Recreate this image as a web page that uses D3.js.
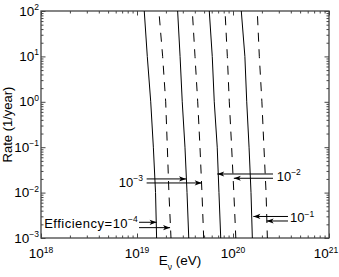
<!DOCTYPE html>
<html>
<head>
<meta charset="utf-8">
<script src="https://cdn.jsdelivr.net/npm/d3@7"></script>
<style>
body { margin: 0; background: #fff; }
text { font-family: "Liberation Sans", Arial, Helvetica, sans-serif; fill: #000; }
</style>
</head>
<body>
<svg id="chart" width="339" height="277"></svg>
<script>
// rate levels (1/year) where the curves were read, bottom to top
var rates = [1e-3, 1e-2, 1e-1, 1e0, 1e1, 1e2];

// neutrino energy (eV) of each solid curve at those rates
var solidE = [
    [1.60e19, 1.56e19, 1.48e19, 1.39e19, 1.28e19, 1.19e19],
    [3.46e19, 3.32e19, 3.16e19, 2.96e19, 2.81e19, 2.65e19],
    [7.45e19, 7.14e19, 6.85e19, 6.38e19, 6.08e19, 5.66e19],
    [1.59e20, 1.54e20, 1.47e20, 1.39e20, 1.33e20, 1.22e20]
];
// same for the dashed curves
var dashedE = [
    [2.26e19, 2.15e19, 2.07e19, 1.99e19, 1.85e19, 1.69e19],
    [4.95e19, 4.75e19, 4.53e19, 4.29e19, 4.02e19, 3.77e19],
    [1.07e20, 1.02e20, 9.68e19, 9.15e19, 8.73e19, 8.26e19],
    [2.28e20, 2.21e20, 2.10e20, 2.00e20, 1.88e20, 1.79e20]
];

var xTickExp = [18, 19, 20, 21];
var yTickExp = [-3, -2, -1, 0, 1, 2];

// annotations, in data units
var labels = [
    {text: "10", sup: "\u22123", E: 1.155e19, rate: 0.0170, anchor: "end"},
    {text: "10", sup: "\u22122", E: 2.85e20, rate: 0.0232, anchor: "start"},
    {text: "10", sup: "\u22121", E: 3.93e20, rate: 0.0028, anchor: "start"},
    {text: "Efficiency=10", sup: "\u22124", E: 1.02e19, rate: 0.00211, anchor: "end"}
];
var arrows = [
    {from: [1.26e19, 0.0200], to: [3.24e19, 0.0200]},
    {from: [1.26e19, 0.0163], to: [4.72e19, 0.0163]},
    {from: [2.61e20, 0.0257], to: [6.85e19, 0.0257]},
    {from: [2.61e20, 0.0207], to: [1.02e20, 0.0207]},
    {from: [3.74e20, 0.00298], to: [1.63e20, 0.00298]},
    {from: [3.74e20, 0.00237], to: [2.24e20, 0.00237]},
    {from: [1.05e19, 0.00222], to: [1.60e19, 0.00222]},
    {from: [1.05e19, 0.00169], to: [2.21e19, 0.00169]}
];

var svg = d3.select("#chart");
var margin = {top: 11, right: 10, bottom: 39, left: 41};
var width = +svg.attr("width") - margin.left - margin.right;
var height = +svg.attr("height") - margin.top - margin.bottom;
var g = svg.append("g")
           .attr("transform", "translate(" + margin.left + "," + margin.top + ")");

var x = d3.scaleLog().domain([1e18, 1e21]).range([0, width]);
var y = d3.scaleLog().domain([1e-3, 1e2]).range([height, 0]);

var AXIS_COLOR = "#444";
var MAJOR = 4.5, MINOR = 2.5;
var FONT = 13.5, SUP = 8.5;

// arrow head
svg.append("defs").append("marker")
   .attr("id", "head")
   .attr("viewBox", "-8 -4 9 8")
   .attr("refX", 0).attr("refY", 0)
   .attr("markerWidth", 9).attr("markerHeight", 8)
   .attr("markerUnits", "userSpaceOnUse")
   .attr("orient", "auto")
   .append("path")
   .attr("d", "M0,0 L-7,-2.6 L-5.2,0 L-7,2.6 Z")
   .attr("fill", "#000");

// ticks on all four sides, pointing inward
function isMajor(v) { return Math.abs(Math.log10(v) - Math.round(Math.log10(v))) < 1e-9; }
var xMinor = x.ticks().filter(v => !isMajor(v));
var yMinor = y.ticks().filter(v => !isMajor(v));
var xMajor = xTickExp.map(e => Math.pow(10, e));
var yMajor = yTickExp.map(e => Math.pow(10, e));

function drawAxis(axisFn, scale, vals, size, transform) {
    var a = g.append("g")
             .attr("transform", transform)
             .call(axisFn(scale).tickValues(vals).tickSize(size).tickSizeOuter(0).tickFormat(""));
    a.select(".domain").remove();
    a.selectAll("line").attr("stroke", AXIS_COLOR);
}
[[xMinor, MINOR], [xMajor, MAJOR]].forEach(function (p) {
    drawAxis(d3.axisBottom, x, p[0], -p[1], "translate(0," + height + ")");
    drawAxis(d3.axisTop, x, p[0], -p[1], "translate(0,0)");
});
[[yMinor, MINOR], [yMajor, MAJOR]].forEach(function (p) {
    drawAxis(d3.axisLeft, y, p[0], -p[1], "translate(0,0)");
    drawAxis(d3.axisRight, y, p[0], -p[1], "translate(" + width + ",0)");
});

g.append("rect")
 .attr("x", 0).attr("y", 0)
 .attr("width", width).attr("height", height)
 .attr("fill", "none")
 .attr("stroke", AXIS_COLOR)
 .attr("stroke-width", 1.3);

// tick labels: 10 with a superscript exponent
function powLabel(sel, base, sup) {
    sel.append("tspan").text(base);
    sel.append("tspan").attr("font-size", SUP).attr("dy", -5.5)
       .text(sup.replace("-", "\u2212"));
}
xTickExp.forEach(function (e) {
    var t = g.append("text")
             .attr("x", x(Math.pow(10, e)))
             .attr("y", height + 20)
             .attr("text-anchor", "middle")
             .attr("font-size", FONT);
    powLabel(t, "10", String(e));
    // keep the last label inside the picture
    var bb = t.node().getBBox();
    var over = margin.left + bb.x + bb.width - 338.5;
    if (over > 0) t.attr("x", x(Math.pow(10, e)) - over);
});
yTickExp.forEach(function (e) {
    var t = g.append("text")
             .attr("x", -2)
             .attr("y", y(Math.pow(10, e)) + 4.5)
             .attr("text-anchor", "end")
             .attr("font-size", FONT);
    powLabel(t, "10", String(e));
});

// axis titles
var xl = g.append("text")
          .attr("x", width / 2 - 5)
          .attr("y", height + 26.5)
          .attr("text-anchor", "middle")
          .attr("font-size", FONT);
xl.append("tspan").text("E");
xl.append("tspan").attr("font-size", SUP).attr("dy", 5).text("\u03bd");
xl.append("tspan").attr("dy", -5).text(" (eV)");

g.append("text")
 .attr("transform", "translate(" + (12.3 - margin.left) + "," + (height / 2) + ") rotate(-90)")
 .attr("text-anchor", "middle")
 .attr("font-size", 13)
 .text("Rate (1/year)");

// curves
var line = d3.line()
             .x(d => x(d[0]))
             .y(d => y(d[1]));

g.selectAll(".solid")
 .data(solidE)
 .enter().append("path")
 .attr("class", "solid")
 .attr("d", es => line(es.map((e, i) => [e, rates[i]])))
 .attr("fill", "none")
 .attr("stroke", "#000")
 .attr("stroke-width", 1);

g.selectAll(".dashed")
 .data(dashedE)
 .enter().append("path")
 .attr("class", "dashed")
 .attr("d", es => line(es.map((e, i) => [e, rates[i]])))
 .attr("fill", "none")
 .attr("stroke", "#000")
 .attr("stroke-width", 1)
 .attr("stroke-dasharray", "9,7.5")
 .attr("stroke-dashoffset", 1.5);

// arrows and their labels
g.selectAll(".arrow")
 .data(arrows)
 .enter().append("line")
 .attr("class", "arrow")
 .attr("x1", d => x(d.from[0])).attr("y1", d => y(d.from[1]))
 .attr("x2", d => x(d.to[0])).attr("y2", d => y(d.to[1]))
 .attr("stroke", "#000")
 .attr("stroke-width", 1)
 .attr("marker-end", "url(#head)");

labels.forEach(function (d) {
    var t = g.append("text")
             .attr("x", x(d.E))
             .attr("y", y(d.rate) + 4.5)
             .attr("text-anchor", d.anchor)
             .attr("font-size", 13)
             .attr("letter-spacing", d.text.length > 2 ? 0.5 : 0);
    t.append("tspan").text(d.text);
    t.append("tspan").attr("font-size", SUP).attr("dy", -5.5).attr("letter-spacing", 0).text(d.sup);
});
</script>
</body>
</html>
